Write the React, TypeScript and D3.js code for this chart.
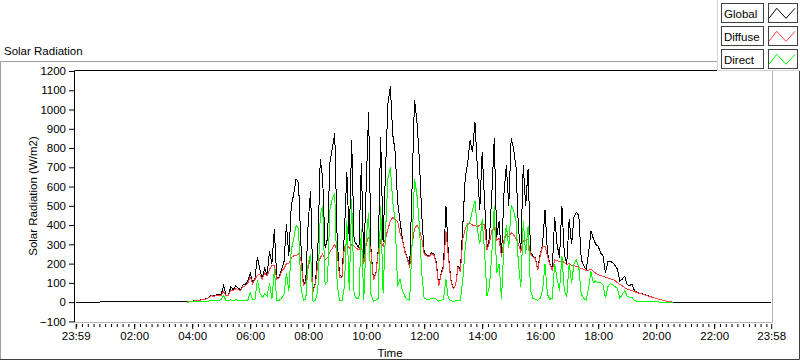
import React, { useEffect, useRef } from "react"
import * as d3 from "d3"

// one reading every 5 minutes, first one at 03:50
const firstSample = 230
const sampleStep = 5

const globalRad = [
  3, 4, 5, 7, 8, 10, 13, 16, 18, 26,
  36, 32, 37, 41, 40, 85, 35, 38, 80, 64,
  85, 73, 64, 90, 92, 108, 151, 100, 125, 235,
  169, 125, 177, 140, 265, 200, 380, 125, 130, 170,
  210, 405, 240, 500, 560, 640, 620, 300, 90, 110,
  413, 579, 60, 100, 274, 745, 640, 280, 330, 727,
  800, 876, 320, 140, 134, 360, 675, 320, 840, 320,
  300, 280, 720, 204, 600, 989, 274, 117, 150, 270,
  858, 310, 680, 1033, 1120, 870, 780, 520, 420, 330,
  265, 230, 186, 600, 1050, 937, 745, 450, 256, 245,
  239, 256, 250, 210, 85, 150, 190, 500, 250, 120,
  70, 90, 186, 170, 400, 650, 720, 841, 780, 937,
  700, 480, 780, 520, 280, 330, 560, 850, 340, 420,
  239, 560, 710, 500, 850, 797, 700, 380, 270, 710,
  500, 690, 260, 240, 230, 170, 250, 300, 480, 260,
  200, 170, 440, 300, 230, 500, 250, 200, 430, 300,
  440, 465, 450, 220, 190, 170, 250, 370, 330, 300,
  290, 256, 240, 150, 210, 212, 205, 190, 170, 108,
  120, 134, 90, 85, 95, 60, 52, 47, 44, 40,
  36, 32, 28, 24, 20, 16, 12, 9, 6, 3,
  1, 0,
]

const diffuseRad = [
  3, 4, 5, 6, 8, 9, 12, 15, 17, 24,
  33, 30, 34, 37, 36, 55, 33, 35, 62, 58,
  70, 66, 60, 80, 85, 99, 130, 95, 118, 140,
  143, 120, 150, 135, 170, 190, 190, 120, 125, 160,
  175, 200, 200, 230, 240, 240, 250, 220, 85, 100,
  180, 240, 55, 95, 200, 230, 250, 220, 230, 260,
  280, 300, 260, 130, 130, 290, 300, 280, 300, 290,
  280, 270, 300, 200, 300, 340, 260, 115, 145, 260,
  320, 290, 330, 380, 420, 440, 430, 420, 360, 320,
  260, 225, 180, 300, 380, 400, 380, 330, 250, 240,
  235, 250, 245, 200, 82, 145, 180, 370, 240, 115,
  68, 88, 180, 160, 330, 380, 410, 410, 400, 400,
  390, 400, 410, 400, 270, 310, 370, 390, 320, 330,
  235, 320, 350, 340, 360, 350, 330, 300, 260, 320,
  320, 325, 250, 235, 225, 165, 240, 290, 290, 240,
  195, 165, 220, 215, 210, 215, 205, 195, 200, 190,
  190, 185, 180, 175, 170, 165, 165, 170, 160, 150,
  143, 138, 134, 130, 126, 122, 118, 112, 100, 92,
  85, 75, 68, 64, 60, 55, 50, 46, 43, 39,
  35, 31, 27, 23, 19, 15, 12, 9, 6, 3,
  1, 0,
]

const directRad = [
  0, 1, 2, 2, 3, 3, 4, 4, 5, 6,
  7, 8, 9, 10, 12, 35, 8, 9, 12, 8,
  13, 9, 6, 10, 8, 10, 48, 15, 14, 116,
  50, 22, 45, 30, 100, 15, 170, 8, 10, 20,
  40, 150, 60, 270, 330, 400, 380, 80, 10, 15,
  204, 250, 5, 8, 60, 450, 500, 90, 110, 480,
  540, 562, 90, 10, 8, 80, 420, 60, 535, 40,
  20, 20, 380, 10, 330, 460, 40, 5, 10, 20,
  500, 50, 360, 640, 700, 520, 420, 80, 120, 60,
  30, 15, 10, 300, 640, 560, 400, 150, 20, 15,
  15, 20, 20, 15, 5, 8, 15, 120, 20, 8,
  5, 6, 10, 10, 120, 280, 400, 420, 480, 527,
  380, 300, 430, 260, 30, 80, 250, 500, 150, 200,
  15, 300, 400, 280, 500, 480, 420, 200, 80, 420,
  250, 396, 60, 20, 15, 10, 20, 60, 200, 40,
  15, 20, 200, 120, 60, 240, 60, 30, 200, 100,
  200, 220, 180, 40, 20, 10, 70, 160, 100, 110,
  100, 100, 90, 20, 80, 95, 90, 80, 70, 20,
  40, 60, 30, 25, 25, 8, 5, 4, 3, 3,
  2, 2, 1, 1, 1, 1, 0, 0, 0, 0,
  0, 0,
]

// global is logged all day long (0 at night)
const dayFirst = -1
const dayLast = 1438
const nightLevel = 0

const seriesNames = ["Global", "Diffuse", "Direct"]
const seriesColors = ["#000000", "#ff4040", "#00ff00"]

const yTicks = [-100, 0, 100, 200, 300, 400, 500, 600, 700, 800, 900, 1000, 1100, 1200]
const xTickMinutes = [-1, 120, 240, 360, 480, 600, 720, 840, 960, 1080, 1200, 1320, 1438]
const xTickLabels = ["23:59", "02:00", "04:00", "06:00", "08:00", "10:00", "12:00", "14:00", "16:00", "18:00", "20:00", "22:00", "23:58"]

const font = "'Liberation Sans', Arial, sans-serif"

export default function App() {
  const ref = useRef<SVGSVGElement>(null)

  useEffect(() => {
    const svg = d3.select(ref.current)
    svg.selectAll("*").remove()

    const x = d3.scaleLinear().domain([dayFirst, dayLast]).range([75.7, 771.2])
    const y = d3.scaleLinear().domain([-100, 1200]).range([321.4, 71])

    // outer frame
    svg.append("rect").attr("width", 800).attr("height", 361).attr("fill", "#fff")
    svg.append("path").attr("d", "M0.5,360 V61.5 H800").attr("fill", "none").attr("stroke", "#a0a0a0")
    svg.append("path").attr("d", "M0,359.5 H799.5 V61").attr("fill", "none").attr("stroke", "#404040")

    svg.append("text").attr("x", 4).attr("y", 55).attr("font-family", font).attr("font-size", 11.5)
      .text("Solar Radiation")

    // plot area border
    svg.append("path").attr("d", "M772.5,70 V322.5 H74").attr("fill", "none").attr("stroke", "#b4b4b4")
    svg.append("path").attr("d", "M74.5,322 V70.5 H772").attr("fill", "none").attr("stroke", "#000")

    const yAxis = d3.axisLeft(y).tickValues(yTicks).tickSize(5).tickPadding(3).tickFormat(d3.format("d"))
    const gy = svg.append("g").attr("transform", "translate(74,0)").call(yAxis)
    gy.select(".domain").remove()
    gy.attr("font-family", font).attr("font-size", 11.5)
    gy.selectAll("line").attr("stroke", "#000")
    gy.selectAll("text").attr("fill", "#000")

    const minor = d3.range(0, 1439, 12)
    const xMinor = d3.axisBottom(x).tickValues(minor).tickSize(3).tickFormat(() => "")
    const gxm = svg.append("g").attr("transform", "translate(0,324)").call(xMinor)
    gxm.select(".domain").remove()
    gxm.selectAll("line").attr("stroke", "#000")

    const xAxis = d3.axisBottom(x).tickValues(xTickMinutes).tickSize(5).tickPadding(3)
      .tickFormat((d, i) => xTickLabels[i])
    const gx = svg.append("g").attr("transform", "translate(0,324)").call(xAxis)
    gx.select(".domain").remove()
    gx.attr("font-family", font).attr("font-size", 11.5)
    gx.selectAll("line").attr("stroke", "#000")
    gx.selectAll("text").attr("fill", "#000")

    svg.append("text").attr("transform", "translate(37,196) rotate(-90)").attr("text-anchor", "middle")
      .attr("font-family", font).attr("font-size", 11.5).text("Solar Radiation (W/m2)")
    svg.append("text").attr("x", 390).attr("y", 357).attr("text-anchor", "middle")
      .attr("font-family", font).attr("font-size", 11.5).text("Time")

    const toPoints = (vals: number[]) => vals.map((v, i) => [firstSample + i * sampleStep, v] as [number, number])
    const line = d3.line<[number, number]>().x(d => x(d[0])).y(d => y(d[1]))

    const globalPts: [number, number][] = [[dayFirst, nightLevel], ...toPoints(globalRad), [dayLast, nightLevel]]
    const data = [globalPts, toPoints(diffuseRad), toPoints(directRad)]

    // LabVIEW style: aliased 1px traces, later plots on top
    data.forEach((pts, k) => {
      svg.append("path").attr("d", line(pts)).attr("fill", "none")
        .attr("stroke", seriesColors[k]).attr("stroke-width", 1)
        .attr("shape-rendering", "crispEdges")
    })

    // legend
    const lg = svg.append("g")
    lg.append("rect").attr("x", 717).attr("y", 0).attr("width", 83).attr("height", 71).attr("fill", "#fff")
    lg.append("path").attr("d", "M717.5,0 V70.5 H800").attr("fill", "none").attr("stroke", "#d4d4d4")
    seriesNames.forEach((name, k) => {
      const y0 = 3 + k * 23
      lg.append("rect").attr("x", 721.5).attr("y", y0 + 0.5).attr("width", 42).attr("height", 19)
        .attr("fill", "#fff").attr("stroke", "#404040")
      lg.append("text").attr("x", 724).attr("y", y0 + 15).attr("font-family", font).attr("font-size", 11.5)
        .text(name)
      lg.append("rect").attr("x", 768.5).attr("y", y0 + 0.5).attr("width", 29).attr("height", 19)
        .attr("fill", "#fff").attr("stroke", "#404040")
      lg.append("polyline")
        .attr("points", [[769, y0 + 15.3], [776.7, y0 + 5.3], [786, y0 + 15.3], [795, y0 + 5.3]].map(p => p.join(",")).join(" "))
        .attr("fill", "none").attr("stroke", seriesColors[k])
    })
  }, [])

  return <svg ref={ref} width={800} height={361} style={{ position: "absolute", left: 0, top: 0 }} />
}
